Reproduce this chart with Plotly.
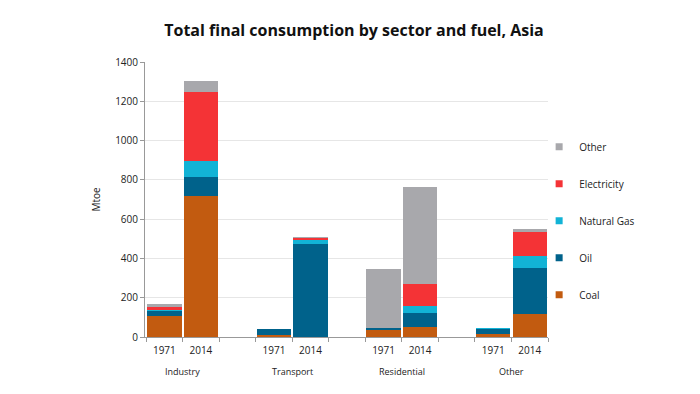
import plotly.graph_objects as go

sectors = ["Industry", "Transport", "Residential", "Other"]
years = ["1971", "2014"]
coal = [105, 716, 8, 0, 34, 52, 17, 115]
oil = [30, 98, 33, 475, 13, 70, 26, 237]
gas = [4, 83, 0, 20, 1, 38, 2, 59]
electricity = [16, 348, 0, 10, 0, 110, 0, 124]
other = [14, 60, 0, 2, 296, 492, 0, 14]

series = [
    ("Coal", coal, "#c25b10"),
    ("Oil", oil, "#00628b"),
    ("Natural Gas", gas, "#12b3d6"),
    ("Electricity", electricity, "#f43336"),
    ("Other", other, "#a8a8ac"),
]

xpos = [g * 3 + j for g in range(len(sectors)) for j in range(len(years))]
ylabels = [y for _ in sectors for y in years]
edges = []
for g in range(len(sectors)):
    edges += [g * 3 - 0.5, g * 3 + 0.5, g * 3 + 1.5]

FONT = "Open Sans"
fig = go.Figure()
for i, (name, vals, color) in enumerate(series):
    fig.add_trace(go.Bar(x=xpos, y=vals, name=name, marker=dict(color=color, line=dict(width=0)),
                         width=0.94, legendgroup=name, showlegend=False))
    fig.add_trace(go.Scatter(x=[None], y=[None], mode="markers", name=name, legendgroup=name,
                             legendrank=len(series) - i,
                             marker=dict(symbol="square", size=7, color=color)))

for g, s in enumerate(sectors):
    fig.add_annotation(x=g * 3 + 0.5, y=-0.124, xref="x", yref="paper", text=s, showarrow=False,
                       font=dict(family=FONT, size=9, color="#222"), yanchor="middle")

fig.update_layout(
    barmode="stack",
    width=692, height=386,
    margin=dict(l=137, r=152, t=54, b=57),
    paper_bgcolor="white", plot_bgcolor="white",
    title=dict(text="<b>Total final consumption by sector and fuel, Asia</b>", x=0.5, xanchor="center",
               y=0.943, yref="container", yanchor="middle",
               font=dict(family=FONT, size=16, color="#111")),
    font=dict(family=FONT, size=10, color="#333"),
    bargap=0,
    legend=dict(x=0.978, xanchor="left", y=0.745, yanchor="top", traceorder="grouped",
                tracegroupgap=18, font=dict(family=FONT, size=10, color="#222"),
                bgcolor="rgba(0,0,0,0)", itemwidth=30),
    xaxis=dict(range=[-0.53, 10.5], tickvals=xpos, ticktext=ylabels, ticks="",
               showgrid=False, showline=True, linecolor="#999", linewidth=1,
               ticklabelstandoff=4,
               tickfont=dict(family=FONT, size=10, color="#222"), zeroline=False,
               minor=dict(tickmode="array", tickvals=edges, ticks="outside", ticklen=4,
                          tickcolor="#999", showgrid=False)),
    yaxis=dict(range=[0, 1400], dtick=200, showgrid=True, gridcolor="#e6e6e6", gridwidth=1,
               showline=True, linecolor="#999", linewidth=1, ticks="outside", ticklen=4,
               tickcolor="#999", zeroline=False,
               tickfont=dict(family=FONT, size=10, color="#222"),
               title=dict(text="Mtoe", font=dict(family=FONT, size=10, color="#222"), standoff=12)),
)

fig.write_html("out.html")
